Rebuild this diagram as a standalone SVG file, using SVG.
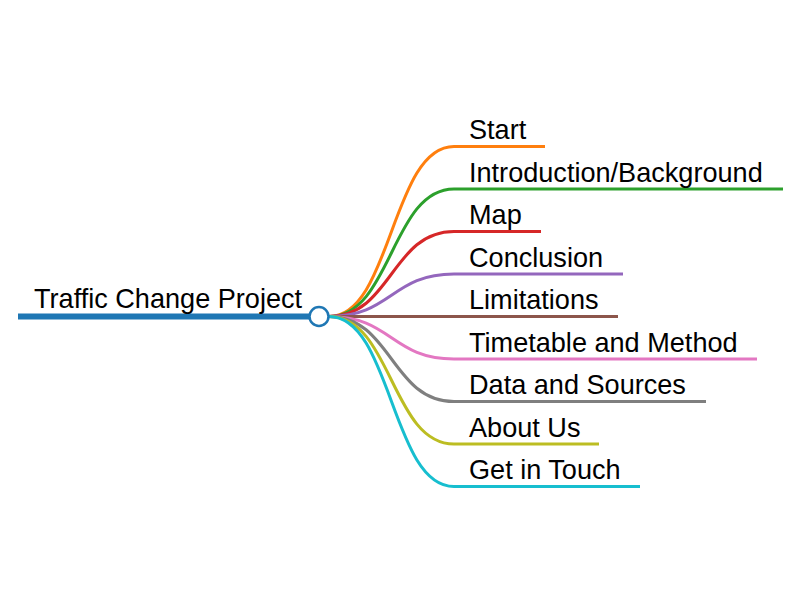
<svg xmlns="http://www.w3.org/2000/svg" width="800" height="600" viewBox="0 0 800 600">
<style>
text{font-family:"Liberation Sans",Arial,sans-serif;font-size:27.1px;fill:#000}
.l{fill:none;stroke-width:3;stroke-linecap:butt}
</style>
<rect width="800" height="600" fill="#fff"/>
<g id="connectors">
<path class="l" stroke="#ff7f0e" d="M329,316.5 C391.5,316.5 391.5,146.5 454,146.5 H545"/>
<path class="l" stroke="#2ca02c" d="M329,316.5 C391.5,316.5 391.5,189 454,189 H783"/>
<path class="l" stroke="#d62728" d="M329,316.5 C391.5,316.5 391.5,231.5 454,231.5 H541"/>
<path class="l" stroke="#9467bd" d="M329,316.5 C391.5,316.5 391.5,274 454,274 H623"/>
<path class="l" stroke="#8c564b" d="M329,316.5 C391.5,316.5 391.5,316.5 454,316.5 H618"/>
<path class="l" stroke="#e377c2" d="M329,316.5 C391.5,316.5 391.5,359 454,359 H757"/>
<path class="l" stroke="#7f7f7f" d="M329,316.5 C391.5,316.5 391.5,401.5 454,401.5 H706"/>
<path class="l" stroke="#bcbd22" d="M329,316.5 C391.5,316.5 391.5,444 454,444 H599"/>
<path class="l" stroke="#17becf" d="M329,316.5 C391.5,316.5 391.5,486.5 454,486.5 H640"/>
</g>
<g id="root">
<line x1="18" y1="316.5" x2="310" y2="316.5" stroke="#1f77b4" stroke-width="6"/>
<circle cx="319" cy="316.5" r="9.5" fill="#fff" stroke="#1f77b4" stroke-width="2.5"/>
<text x="34" y="308">Traffic Change Project</text>
</g>
<g id="n-start"><text x="469" y="139">Start</text></g>
<g id="n-intro"><text x="469" y="181.5">Introduction/Background</text></g>
<g id="n-map"><text x="469" y="224">Map</text></g>
<g id="n-conclusion"><text x="469" y="266.5">Conclusion</text></g>
<g id="n-limitations"><text x="469" y="309">Limitations</text></g>
<g id="n-timetable"><text x="469" y="351.5">Timetable and Method</text></g>
<g id="n-data"><text x="469" y="394">Data and Sources</text></g>
<g id="n-about"><text x="469" y="436.5">About Us</text></g>
<g id="n-touch"><text x="469" y="479">Get in Touch</text></g>
</svg>
